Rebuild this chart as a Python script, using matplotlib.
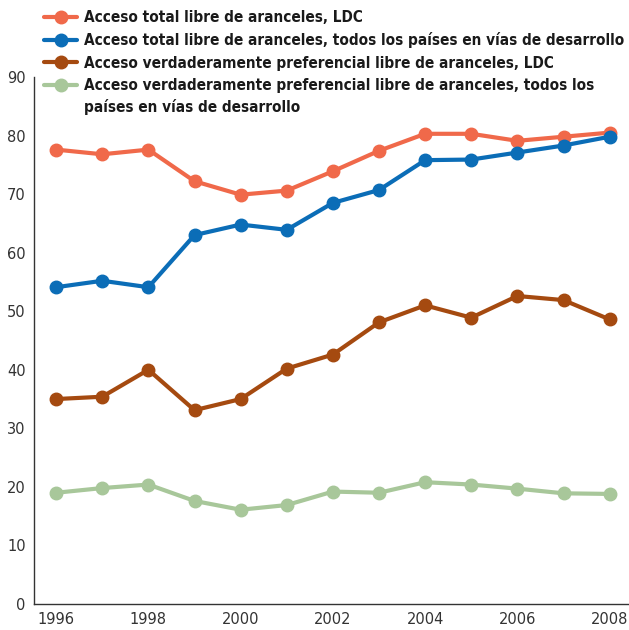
import matplotlib
matplotlib.use("Agg")
import matplotlib.pyplot as plt

years = [1996, 1997, 1998, 1999, 2000, 2001, 2002, 2003, 2004, 2005, 2006, 2007, 2008]

total_ldc = [77.6, 76.8, 77.6, 72.2, 69.9, 70.6, 73.9, 77.4, 80.3, 80.3, 79.1, 79.8, 80.5]
total_dev = [54.1, 55.2, 54.1, 63.0, 64.8, 63.9, 68.5, 70.7, 75.8, 75.9, 77.1, 78.3, 79.8]
pref_ldc = [35.0, 35.4, 40.0, 33.1, 35.0, 40.2, 42.6, 48.1, 51.0, 48.9, 52.6, 51.9, 48.6]
pref_dev = [19.0, 19.8, 20.4, 17.6, 16.1, 16.9, 19.2, 19.0, 20.8, 20.4, 19.7, 18.9, 18.8]

labels = [
    "Acceso total libre de aranceles, LDC",
    "Acceso total libre de aranceles, todos los países en vías de desarrollo",
    "Acceso verdaderamente preferencial libre de aranceles, LDC",
    "Acceso verdaderamente preferencial libre de aranceles, todos los",
]
# second line of the last legend entry, placed under it by hand
label_tail = "países en vías de desarrollo"
colors = ["#F0694A", "#0B6DB7", "#A54A10", "#A8C79A"]

fig = plt.figure(figsize=(6.29, 6.30), dpi=100)
ax = fig.add_axes([34 / 629, 26 / 630, 595 / 629, 527 / 630])

series = [total_ldc, total_dev, pref_ldc, pref_dev]
for vals, col, lab in zip(series, colors, labels):
    ax.plot(years, vals, color=col, linewidth=3, marker="o", markersize=9,
            label=lab, solid_capstyle="round")

ax.set_xlim(1995.52, 2008.42)
ax.set_ylim(0, 90)
ax.set_xticks(range(1996, 2009, 2))
ax.set_yticks(range(0, 91, 10))
for s in ["top", "right"]:
    ax.spines[s].set_visible(False)
for s in ["left", "bottom"]:
    ax.spines[s].set_color("#333333")
    ax.spines[s].set_linewidth(1.0)
ax.tick_params(length=0, labelsize=10.5, colors="#333333", pad=6)

font = {"family": "DejaVu Sans", "stretch": "condensed", "weight": "bold", "size": 11}
leg = fig.legend(loc="upper left", bbox_to_anchor=(38 / 629, 1 - 4 / 630),
                 frameon=False, handlelength=2.15, handletextpad=0.45,
                 labelspacing=0.48, borderaxespad=0, prop=font)
for t in leg.get_texts():
    t.set_color("#1a1a1a")

fig.canvas.draw()
bb = leg.get_texts()[-1].get_window_extent().transformed(fig.transFigure.inverted())
fig.text(bb.x0, bb.y0 - 22 / 630, label_tail, color="#1a1a1a", va="bottom",
         ha="left", fontproperties=leg.get_texts()[-1].get_fontproperties())

fig.savefig("out.png", dpi=100)
